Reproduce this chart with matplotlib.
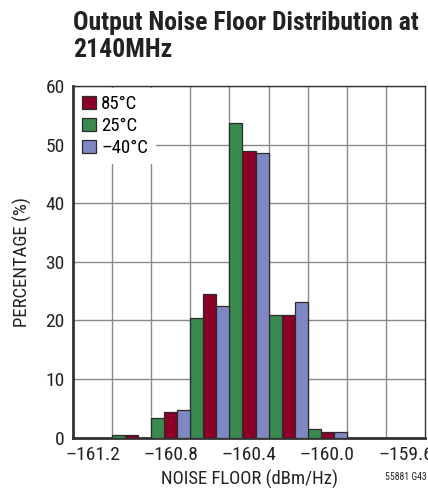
import numpy as np
import matplotlib
matplotlib.use("Agg")
import matplotlib.pyplot as plt

plt.rcParams['font.family'] = ['Roboto Condensed', 'Roboto', 'DejaVu Sans']
plt.rcParams['font.stretch'] = 'condensed'

bins = [-161.0, -160.8, -160.6, -160.4, -160.2, -160.0]
pct_85 = [0.4, 4.3, 24.5, 48.9, 20.9, 1.0]
pct_25 = [0.4, 3.3, 20.5, 53.6, 20.9, 1.4]
pct_m40 = [0.0, 4.7, 22.5, 48.5, 23.1, 1.0]
xticks = [-161.2, -160.8, -160.4, -160.0, -159.6]
yticks = [0, 10, 20, 30, 40, 50, 60]

red = '#8c0028'
green = '#3a8a4f'
blue = '#8088c4'

fig = plt.figure(figsize=(4.28, 4.93), dpi=100)
ax = fig.add_axes([0.1706, 0.1122, 0.8224, 0.7134])

w = 0.2 / 3
x = np.array(bins)
ax.bar(x, pct_85, width=w, color=red, edgecolor='#2a2a2a', linewidth=0.9, label='85°C', zorder=3)
ax.bar(x - w, pct_25, width=w, color=green, edgecolor='#2a2a2a', linewidth=0.9, label='25°C', zorder=3)
ax.bar(x + w, pct_m40, width=w, color=blue, edgecolor='#2a2a2a', linewidth=0.9, label='\u201340°C', zorder=3)

ax.set_xlim(-161.3, -159.5)
ax.set_ylim(0, 60)
ax.set_xticks(xticks)
ax.set_xticklabels(['\u2013161.2', '\u2013160.8', '\u2013160.4', '\u2013160.0', '\u2013159.6'])
ax.set_xticks(np.arange(-161.1, -159.55, 0.2), minor=True)
ax.set_yticks(yticks)
ax.tick_params(axis='both', which='both', length=0, labelsize=14, colors='#222222', pad=6)
ax.grid(False)
ax.xaxis.grid(True, which='minor', color='#8a8a8a', linewidth=1.0, zorder=0)
ax.yaxis.grid(True, which='major', color='#8a8a8a', linewidth=1.0, zorder=0)
for s in ax.spines.values():
    s.set_color('#333333')
    s.set_linewidth(1.0)
ax.spines['left'].set_linewidth(2.0)
ax.spines['bottom'].set_linewidth(2.0)

ax.set_xlabel('NOISE FLOOR (dBm/Hz)', fontsize=13.5, color='#222222', labelpad=4)
ax.set_ylabel('PERCENTAGE (%)', fontsize=13.5, color='#222222', labelpad=10)

leg = ax.legend(loc='upper left', fontsize=13.5, frameon=True, fancybox=False,
                handlelength=0.7, handleheight=0.7, handletextpad=0.3,
                labelspacing=0.2, borderpad=0.4, borderaxespad=0.1)
leg.get_frame().set_edgecolor('none')
leg.get_frame().set_facecolor('white')
leg.get_frame().set_alpha(1)
leg.set_zorder(5)

fig.text(0.1706, 0.978, 'Output Noise Floor Distribution at\n2140MHz', fontsize=18.5,
         fontweight='bold', color='#222222', ha='left', va='top', linespacing=1.15)
fig.text(0.996, 0.022, '55881 G43', fontsize=7, color='#222222', ha='right', va='bottom')

fig.savefig('out.png', dpi=100)
